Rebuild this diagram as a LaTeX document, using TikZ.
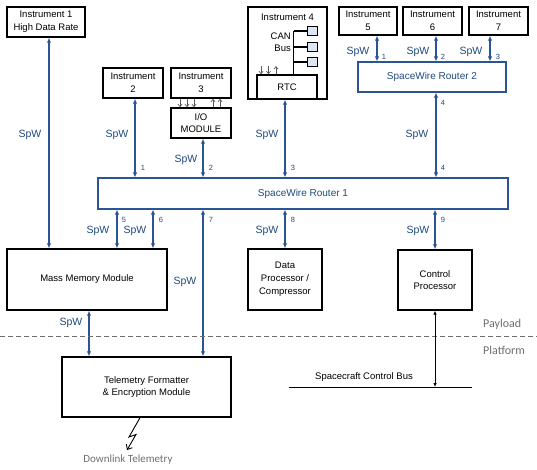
\documentclass[tikz,border=0pt]{standalone}
\usepackage{fontspec}
\setmainfont{Liberation Sans}
\newfontfamily\calib{Carlito}
\usetikzlibrary{arrows.meta,calc}
\definecolor{spwblue}{HTML}{2B5592}
\definecolor{txtblue}{HTML}{1F497D}
\definecolor{graytxt}{HTML}{6E6E6E}
\definecolor{sqfill}{HTML}{DCE6F2}
\begin{document}
\begin{tikzpicture}[x=1pt,y=-1pt,
  box/.style={draw, line width=1.4pt, inner sep=0pt, align=center, font=\fontsize{9.5}{12.8}\selectfont},
  router/.style={draw=spwblue, line width=1.2pt, inner sep=0pt, text=txtblue, font=\fontsize{10}{12}\selectfont},
  spw/.style={draw=spwblue, line width=1.6pt, {Latex[length=5pt,width=4.5pt]}-{Latex[length=5pt,width=4.5pt]}},
  spwlab/.style={text=txtblue, font=\fontsize{10.5}{12}\selectfont, inner sep=0pt},
  portlab/.style={text=txtblue, font=\fontsize{7.5}{8}\selectfont, inner sep=0pt},
  sig/.style={draw=black!65, line width=0.7pt, -{Straight Barb[length=2.5pt,width=4pt]}},
  plain/.style={font=\fontsize{9.5}{12}\selectfont, inner sep=0pt},
  graylab/.style={text=graytxt, inner sep=0pt},
  sq/.style={draw, line width=1.2pt, fill=sqfill, minimum size=9.5pt, inner sep=0pt}
]
\useasboundingbox (0,0) rectangle (537,469);

% port coordinates
\coordinate (c1) at (49,0);
\coordinate (cp1) at (135,0);
\coordinate (cp2) at (203,0);
\coordinate (cp3) at (285,0);
\coordinate (cp4) at (436,0);
\coordinate (cp5) at (117,0);
\coordinate (cp6) at (153,0);
\coordinate (cp7) at (203,0);
\coordinate (cp8) at (285,0);
\coordinate (cp9) at (435,0);
\coordinate (cq1) at (377,0);
\coordinate (cq2) at (436,0);
\coordinate (cq3) at (490,0);
\coordinate (cm) at (89,0);

% boxes
\node[box, minimum width=78pt, minimum height=30pt] (inst1) at (46,22) {Instrument 1\\High Data Rate};
\node[box, minimum width=60pt, minimum height=30pt] (inst2) at (133,83) {Instrument\\2};
\node[box, minimum width=60pt, minimum height=30pt] (inst3) at (201,83) {Instrument\\3};
\node[box, minimum width=60pt, minimum height=30pt] (io) at (201,123) {I/O\\MODULE};
\node[box, minimum width=79pt, minimum height=92pt] (inst4) at (287.5,53) {};
\node[plain] (inst4lab) at (287.5,17) {Instrument 4};
\node[box, minimum width=60pt, minimum height=24pt] (rtc) at (287,87) {RTC};
\node[box, minimum width=58pt, minimum height=28pt] (inst5) at (368,21) {Instrument\\5};
\node[box, minimum width=59pt, minimum height=28pt] (inst6) at (432.5,21) {Instrument\\6};
\node[box, minimum width=59pt, minimum height=28pt] (inst7) at (498.5,21) {Instrument\\7};
\node[router, minimum width=148pt, minimum height=30pt] (r2) at (432,77) {SpaceWire Router 2};
\node[router, minimum width=410pt, minimum height=31pt] (r1) at (303,193.5) {SpaceWire Router 1};
\node[box, minimum width=160pt, minimum height=61pt] (mm) at (87,279.5) {Mass Memory Module};
\node[box, minimum width=74pt, minimum height=61pt] (dp) at (285,279.5) {Data\\Processor /\\Compressor};
\node[box, minimum width=74pt, minimum height=60pt] (cpu) at (435,280) {Control\\Processor};
\node[box, minimum width=169pt, minimum height=60pt] (tf) at (146.5,387) {Telemetry Formatter\\\& Encryption Module};

% CAN bus inside instrument 4
\node[plain, anchor=east] (canlab) at (291,36) {CAN};
\node[plain, anchor=east] (buslab) at (291,48.5) {Bus};
\node[sq] (s1) at (312.5,31) {};
\node[sq] (s2) at (312.5,47) {};
\node[sq] (s3) at (312.5,62) {};
\coordinate (bustop) at (293.5,31);
\draw[line width=1.2pt] (bustop) -- (bustop |- rtc.north);
\draw[line width=1.2pt] (bustop) -- (s1.west);
\draw[line width=1.2pt] (bustop |- s2) -- (s2.west);
\draw[line width=1.2pt] (bustop |- s3) -- (s3.west);

% small signal arrows RTC
\coordinate (ra) at (261,66);
\coordinate (rb) at (268.5,66);
\coordinate (rc) at (276,66);
\draw[sig] (ra) -- (ra |- rtc.north);
\draw[sig] (rb) -- (rb |- rtc.north);
\draw[sig] (rc |- rtc.north) -- (rc);

% small signal arrows instrument 3 / IO
\coordinate (ia) at (180,0);
\coordinate (ib) at (187,0);
\coordinate (ic) at (194,0);
\coordinate (id) at (213,0);
\coordinate (ie) at (220,0);
\draw[sig] (inst3.south -| ia) -- (io.north -| ia);
\draw[sig] (inst3.south -| ib) -- (io.north -| ib);
\draw[sig] (inst3.south -| ic) -- (io.north -| ic);
\draw[sig] (io.north -| id) -- (inst3.south -| id);
\draw[sig] (io.north -| ie) -- (inst3.south -| ie);

% SpW links
\draw[spw] (inst1.south -| c1) -- (mm.north -| c1);
\draw[spw] (inst2.south -| cp1) -- (r1.north -| cp1);
\draw[spw] (io.south -| cp2) -- (r1.north -| cp2);
\draw[spw] (rtc.south -| cp3) -- (r1.north -| cp3);
\draw[spw] (r2.south -| cp4) -- (r1.north -| cp4);
\draw[spw] (inst5.south -| cq1) -- (r2.north -| cq1);
\draw[spw] (inst6.south -| cq2) -- (r2.north -| cq2);
\draw[spw] (inst7.south -| cq3) -- (r2.north -| cq3);
\draw[spw] (r1.south -| cp5) -- (mm.north -| cp5);
\draw[spw] (r1.south -| cp6) -- (mm.north -| cp6);
\draw[spw] (r1.south -| cp7) -- (tf.north -| cp7);
\draw[spw] (r1.south -| cp8) -- (dp.north -| cp8);
\draw[spw] (r1.south -| cp9) -- (cpu.north -| cp9);
\draw[spw] (mm.south -| cm) -- (tf.north -| cm);

% SpW labels
\node[spwlab] (l1) at (30,135) {SpW};
\node[spwlab] (l2) at (117,135) {SpW};
\node[spwlab] (l3) at (186,160) {SpW};
\node[spwlab] (l4) at (267,135) {SpW};
\node[spwlab] (l5) at (417,135) {SpW};
\node[spwlab] (l6) at (358,52) {SpW};
\node[spwlab] (l7) at (418,52) {SpW};
\node[spwlab] (l8) at (471,52) {SpW};
\node[spwlab] (l9) at (98,231) {SpW};
\node[spwlab] (l10) at (135,231) {SpW};
\node[spwlab] (l11) at (185,282) {SpW};
\node[spwlab] (l12) at (267,231) {SpW};
\node[spwlab] (l13) at (418,231) {SpW};
\node[spwlab] (l14) at (71,323) {SpW};

% port numbers
\node[portlab] (n1) at (143,168) {1};
\node[portlab] (n2) at (211,168) {2};
\node[portlab] (n3) at (293,168) {3};
\node[portlab] (n4) at (443,168) {4};
\node[portlab] (n5) at (124,220) {5};
\node[portlab] (n6) at (161,220) {6};
\node[portlab] (n7) at (211,220) {7};
\node[portlab] (n8) at (293,220) {8};
\node[portlab] (n9) at (443,220) {9};
\node[portlab] (m1) at (384,57) {1};
\node[portlab] (m2) at (443,57) {2};
\node[portlab] (m3) at (498,57) {3};
\node[portlab] (m4) at (443,103) {4};

% payload / platform divider
\coordinate (dl) at (0,336);
\coordinate (dr) at (537,336);
\draw[graytxt, line width=0.8pt, dash pattern=on 5pt off 3pt] (dl) -- (dr);
\node[graylab, anchor=west, font=\calib\fontsize{12}{14}\selectfont] (payload) at (483,324) {Payload};
\node[graylab, anchor=west, font=\calib\fontsize{12}{14}\selectfont] (platform) at (483,350) {Platform};

% spacecraft control bus
\coordinate (busl) at (289,387);
\coordinate (busr) at (472,387);
\draw[line width=1pt] (busl) -- (busr);
\node[plain] (buslabel) at (364,377) {Spacecraft Control Bus};
\draw[line width=0.8pt, {Latex[length=4pt,width=3.5pt]}-{Latex[length=4pt,width=3.5pt]}] (cpu.south -| cp9) -- (busr -| cp9);

% downlink lightning
\coordinate (z1) at (129,437);
\coordinate (z2) at (136,434.5);
\coordinate (z3) at (127,450);
\draw[line width=0.9pt, -{Straight Barb[length=4pt,width=7pt]}] ([xshift=-6.5pt]tf.south) -- (z1) -- (z2) -- (z3);
\node[graylab, font=\calib\fontsize{11}{13}\selectfont] (downlink) at (128,460) {Downlink Telemetry};
\end{tikzpicture}
\end{document}
